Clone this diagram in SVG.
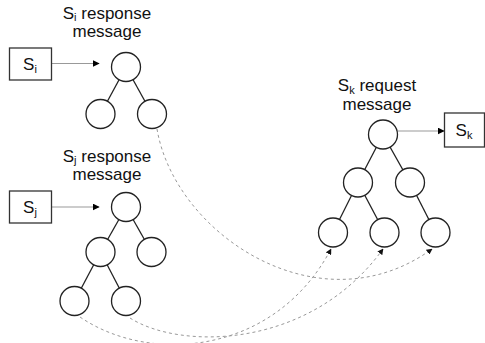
<svg xmlns="http://www.w3.org/2000/svg" width="485" height="343" viewBox="0 0 485 343">
<defs>
<marker id="ah" viewBox="0 0 10 10" refX="9" refY="5" markerWidth="7" markerHeight="7" markerUnits="userSpaceOnUse" orient="auto"><path d="M0,0 L10,5 L0,10 z" fill="#000"/></marker>
<marker id="ahs" viewBox="0 0 10 10" refX="9" refY="5" markerWidth="6" markerHeight="6" markerUnits="userSpaceOnUse" orient="auto"><path d="M0,0 L10,5 L0,10 z" fill="#111"/></marker>
<style>
.n{fill:#fff;stroke:#222;stroke-width:1.3}
.e{stroke:#222;stroke-width:1.3;fill:none}
.b{fill:#fff;stroke:#333;stroke-width:1.3}
.t{font-family:"Liberation Sans",Arial,sans-serif;font-size:17px;fill:#111;text-anchor:middle}
.bt{font-family:"Liberation Sans",Arial,sans-serif;font-size:17px;fill:#111;text-anchor:middle}
.sub{font-size:11px;fill:#111}
.a{stroke:#999;stroke-width:1;fill:none}
.d{stroke:#999;stroke-width:1;fill:none;stroke-dasharray:3 3}
</style>
</defs>
<g id="title-i"><text class="t"><tspan x="107" y="18.5">S</tspan><tspan class="sub" dy="2.5">i</tspan><tspan dy="-2.5"> response</tspan><tspan x="107" y="37">message</tspan></text></g>
<g id="title-j"><text class="t"><tspan x="107" y="161.5">S</tspan><tspan class="sub" dy="2.5">j</tspan><tspan dy="-2.5"> response</tspan><tspan x="107" y="180">message</tspan></text></g>
<g id="title-k"><text class="t"><tspan x="377" y="91">S</tspan><tspan class="sub" dy="2.5">k</tspan><tspan dy="-2.5"> request</tspan><tspan x="377" y="109.5">message</tspan></text></g>
<g id="connectors">
<line class="e" x1="126" y1="67" x2="100.5" y2="114"/>
<line class="e" x1="126" y1="67" x2="152" y2="114"/>
<line class="e" x1="126" y1="207" x2="100.5" y2="252"/>
<line class="e" x1="126" y1="207" x2="151.5" y2="252"/>
<line class="e" x1="100.5" y1="252" x2="74.5" y2="301"/>
<line class="e" x1="100.5" y1="252" x2="126" y2="301"/>
<line class="e" x1="383" y1="134.5" x2="358" y2="182.5"/>
<line class="e" x1="383" y1="134.5" x2="410" y2="182.5"/>
<line class="e" x1="358" y1="182.5" x2="333" y2="232.5"/>
<line class="e" x1="358" y1="182.5" x2="384.5" y2="232.5"/>
<line class="e" x1="410" y1="182.5" x2="435.5" y2="232.5"/>
<line class="a" x1="52" y1="63.5" x2="99" y2="63.5" marker-end="url(#ah)"/>
<line class="a" x1="52" y1="207" x2="99" y2="207" marker-end="url(#ah)"/>
<line class="a" x1="398" y1="131" x2="444" y2="131" marker-end="url(#ah)"/>
<path class="d" d="M157,129 C175,235 320,330 432,249" marker-end="url(#ahs)"/>
<path class="d" d="M80,317 C150,365 275,355 331,249" marker-end="url(#ahs)"/>
<path class="d" d="M130,318 C180,350 310,350 383,249" marker-end="url(#ahs)"/>
</g>
<g id="box-si"><rect class="b" x="9.5" y="48" width="42" height="32"/><text class="bt" x="30" y="69.5">S<tspan class="sub" dy="3">i</tspan></text></g>
<g id="box-sj"><rect class="b" x="9.5" y="191" width="42" height="32"/><text class="bt" x="30" y="212.5">S<tspan class="sub" dy="3">j</tspan></text></g>
<g id="box-sk"><rect class="b" x="444.5" y="113" width="40" height="34"/><text class="bt" x="464" y="135.5">S<tspan class="sub" dy="3">k</tspan></text></g>
<g id="si-root"><circle class="n" cx="126" cy="67" r="14.5"/></g>
<g id="si-l"><circle class="n" cx="100.5" cy="114" r="14.5"/></g>
<g id="si-r"><circle class="n" cx="152" cy="114" r="14.5"/></g>
<g id="sj-root"><circle class="n" cx="126" cy="207" r="14.5"/></g>
<g id="sj-l"><circle class="n" cx="100.5" cy="252" r="14.5"/></g>
<g id="sj-r"><circle class="n" cx="151.5" cy="252" r="14.5"/></g>
<g id="sj-ll"><circle class="n" cx="74.5" cy="301" r="14.5"/></g>
<g id="sj-lr"><circle class="n" cx="126" cy="301" r="14.5"/></g>
<g id="sk-root"><circle class="n" cx="383" cy="134.5" r="14.5"/></g>
<g id="sk-l"><circle class="n" cx="358" cy="182.5" r="14.5"/></g>
<g id="sk-r"><circle class="n" cx="410" cy="182.5" r="14.5"/></g>
<g id="sk-ll"><circle class="n" cx="333" cy="232.5" r="14.5"/></g>
<g id="sk-lm"><circle class="n" cx="384.5" cy="232.5" r="14.5"/></g>
<g id="sk-rr"><circle class="n" cx="435.5" cy="232.5" r="14.5"/></g>
</svg>
